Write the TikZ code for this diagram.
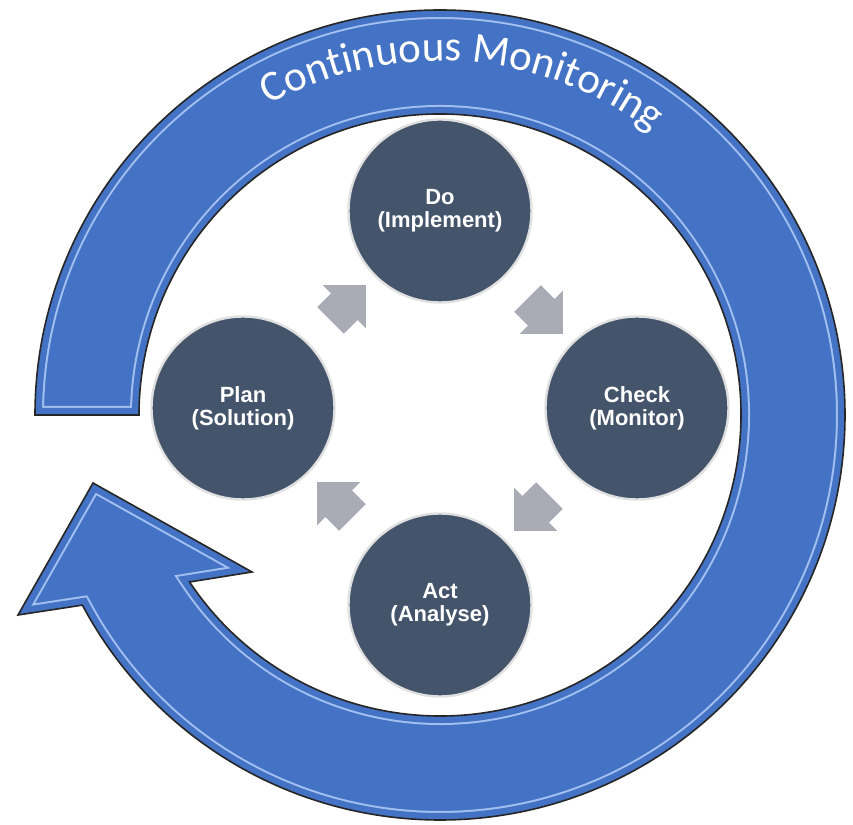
\documentclass[tikz,border=0pt]{standalone}
\usepackage{fontspec}
\setmainfont{Liberation Sans}
\newfontfamily\bandfont{Carlito}
\usetikzlibrary{shapes.arrows,decorations.text,calc}

\definecolor{ringblue}{HTML}{4472C4}
\definecolor{ringlight}{HTML}{A3C0F0}
\definecolor{phasegray}{HTML}{44546A}
\definecolor{flowgray}{HTML}{AAACB5}

% outline of the big ring arrow, relative to its centre
\newcommand\ringpath{(180:405) arc[start angle=180, end angle=-152, radius=405]
  -- (-422,-200) -- (-347,-68) -- (-188,-157)
  -- (-146.3:301) arc[start angle=-146.3, end angle=180, radius=301] -- cycle}

\tikzset{
  phase/.style={circle, fill=phasegray, draw=black!12, line width=1.2pt,
    minimum size=91.5pt, inner sep=0pt, text=white, align=center,
    font=\bfseries\fontsize{11}{11.5}\selectfont},
  flow/.style={single arrow, fill=flowgray, minimum height=25pt,
    inner xsep=0pt, inner ysep=9.25pt, single arrow head extend=5.75pt}
}

\begin{document}
\begin{tikzpicture}[x=0.5pt,y=0.5pt]
  \useasboundingbox (0,0) rectangle (853,825);

  % big ring
  \begin{scope}[shift={(440,410)}]
    \fill[ringblue] \ringpath;
    \begin{scope}
      \clip \ringpath;
      \draw[draw=ringlight, double=ringblue, double distance=7pt, line width=1pt] \ringpath;
    \end{scope}
    \draw[line width=0.8pt, black!85] \ringpath;
    % title along the band
    \path[decorate, decoration={text along path, text align=center, text color=white,
      text={|\bandfont\fontsize{21.5}{24}\selectfont|Continuous Monitoring}}]
      (150:354) arc[start angle=150, end angle=22, radius=354];
  \end{scope}

  % the four phases
  \node[phase] (do) at (440,614) {Do\\(Implement)};
  \node[phase] (check) at (637,417) {Check\\(Monitor)};
  \node[phase] (act) at (440,220) {Act\\(Analyse)};
  \node[phase] (plan) at (243,417) {Plan\\(Solution)};

  % arrows between phases
  \node[flow, rotate=45] (pd) at ($(plan)!0.5!(do)$) {};
  \node[flow, rotate=-45] (dc) at ($(do)!0.5!(check)$) {};
  \node[flow, rotate=-135] (ca) at ($(check)!0.5!(act)$) {};
  \node[flow, rotate=135] (ap) at ($(act)!0.5!(plan)$) {};
\end{tikzpicture}
\end{document}
